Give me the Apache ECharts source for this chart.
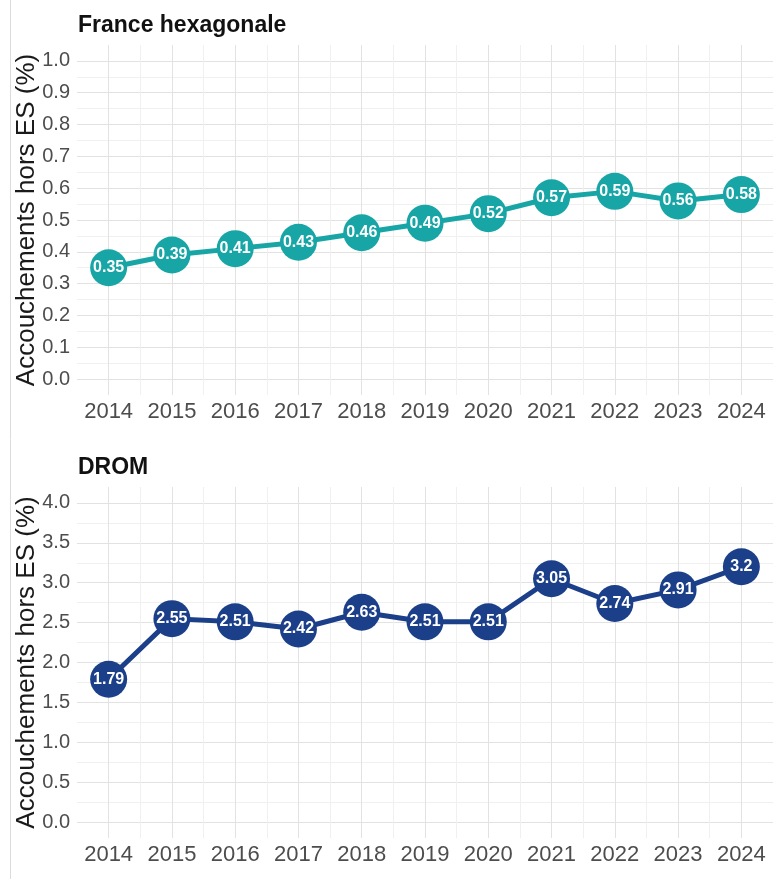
<!DOCTYPE html>
<html>
<head>
<meta charset="utf-8">
<script src="https://cdn.jsdelivr.net/npm/echarts@6/dist/echarts.min.js"></script>
<style>
html,body{margin:0;padding:0;background:#fff;}
#chart{width:782px;height:879px;}
</style>
</head>
<body>
<div id="chart"></div>
<script>
// ---- data ----
const years = [2014, 2015, 2016, 2017, 2018, 2019, 2020, 2021, 2022, 2023, 2024];
const franceHexagonale = [0.35, 0.39, 0.41, 0.43, 0.46, 0.49, 0.52, 0.57, 0.59, 0.56, 0.58];
const drom = [1.79, 2.55, 2.51, 2.42, 2.63, 2.51, 2.51, 3.05, 2.74, 2.91, 3.2];
const panelTitles = ['France hexagonale', 'DROM'];
const yAxisName = 'Accouchements hors ES (%)';
const topTicks = { min: 0, max: 1, major: 0.1 };
const bottomTicks = { min: 0, max: 4, major: 0.5 };

// ---- style helpers ----
const FONT = 'Liberation Sans, Arial, sans-serif';
const MAJOR = '#e2e2e2', MINOR = '#f0f0f0', NONE = 'rgba(0,0,0,0)';
function isMult(v, step) { const r = v / step; return Math.abs(r - Math.round(r)) < 1e-6; }
function gridColors(min, max, step, major, minor) {
  const n = Math.round((max - min) / step);
  const out = [];
  for (let k = 0; k <= n; k++) {
    const v = min + k * step;
    if (k === 0 || k === n) out.push(NONE);
    else if (isMult(v, major)) out.push(MAJOR);
    else if (isMult(v, minor)) out.push(MINOR);
    else out.push(NONE);
  }
  return out;
}
function yAxisCfg(idx, t) {
  const pad = (t.max - t.min) * 0.05;
  const min = t.min - pad, max = t.max + pad;
  const step = 0.05;
  return {
    type: 'value', gridIndex: idx, min: min, max: max, interval: step,
    name: yAxisName, nameLocation: 'middle', nameGap: 37, nameRotate: 90, nameMoveOverlap: false,
    nameTextStyle: { fontSize: 26, color: '#1a1a1a', fontFamily: FONT },
    axisLine: { show: false }, axisTick: { show: false },
    axisLabel: {
      fontSize: 20, color: '#4d4d4d', margin: 7, fontFamily: FONT,
      showMinLabel: true, showMaxLabel: true,
      formatter: v => isMult(v, t.major) && v > t.min - 1e-6 && v < t.max + 1e-6 ? v.toFixed(1) : ''
    },
    splitLine: { show: true, lineStyle: { width: 1, color: gridColors(min, max, step, t.major, t.major / 2) } }
  };
}
function xAxisCfg(idx) {
  const min = years[0] - 0.5, max = years[years.length - 1] + 0.5;
  return {
    type: 'value', gridIndex: idx, min: min, max: max, interval: 0.5,
    axisLine: { show: false }, axisTick: { show: false },
    axisLabel: {
      fontSize: 22, color: '#4d4d4d', margin: 6, fontFamily: FONT,
      formatter: v => isMult(v, 1) && v >= years[0] && v <= years[years.length - 1] ? String(Math.round(v)) : ''
    },
    splitLine: { show: true, lineStyle: { width: 1, color: gridColors(min, max, 0.5, 1, 0.5) } }
  };
}
function seriesCfg(idx, values, color) {
  return {
    type: 'line', xAxisIndex: idx, yAxisIndex: idx,
    data: years.map((y, i) => [y, values[i]]),
    lineStyle: { color: color, width: 5 },
    itemStyle: { color: color },
    symbol: 'circle', symbolSize: 37,
    label: {
      show: true, position: 'inside', color: '#fff', fontWeight: 'bold', fontSize: 16,
      fontFamily: FONT,
      formatter: p => String(p.value[1])
    },
    z: 3
  };
}

const chart = echarts.init(document.getElementById('chart'), null, { renderer: 'canvas' });
chart.setOption({
  backgroundColor: '#fff',
  animation: false,
  title: [
    { text: panelTitles[0], left: 73, top: 9, textStyle: { fontSize: 23, fontWeight: 'bold', color: '#111', fontFamily: FONT } },
    { text: panelTitles[1], left: 73, top: 451, textStyle: { fontSize: 23, fontWeight: 'bold', color: '#111', fontFamily: FONT } }
  ],
  graphic: [
    { type: 'line', shape: { x1: 10.5, y1: 0, x2: 10.5, y2: 879 }, style: { stroke: '#dcdcdc', lineWidth: 1 } }
  ],
  grid: [
    { left: 77, width: 696, top: 45, height: 350, outerBoundsMode: 'none', containLabel: false },
    { left: 77, width: 696, top: 487, height: 351, outerBoundsMode: 'none', containLabel: false }
  ],
  xAxis: [xAxisCfg(0), xAxisCfg(1)],
  yAxis: [yAxisCfg(0, topTicks), yAxisCfg(1, bottomTicks)],
  series: [
    seriesCfg(0, franceHexagonale, '#17a5a6'),
    seriesCfg(1, drom, '#1b3f89')
  ]
});
</script>
</body>
</html>
